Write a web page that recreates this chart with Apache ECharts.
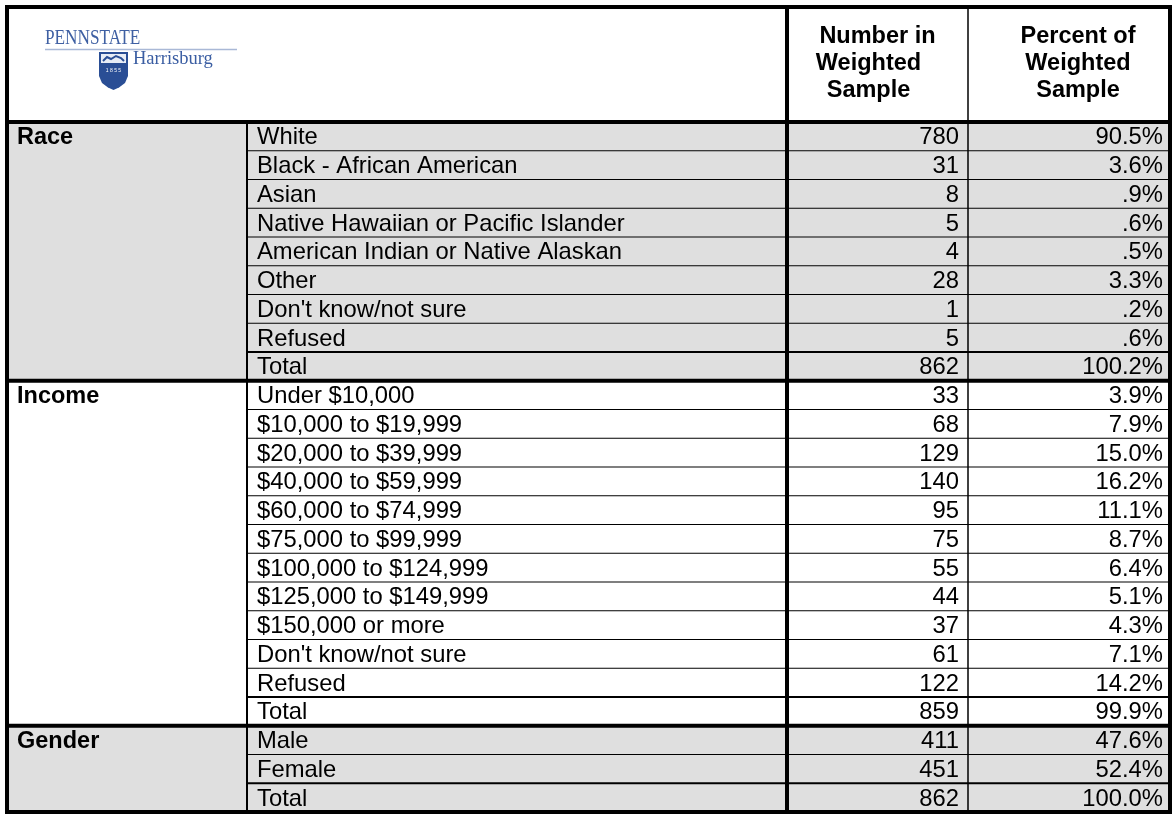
<!DOCTYPE html>
<html>
<head>
<meta charset="utf-8">
<title>Weighted sample</title>
<script src="https://cdn.jsdelivr.net/npm/echarts@6/dist/echarts.min.js"></script>
<style>
  html, body { margin: 0; padding: 0; background: #fff; }
  #chart { width: 1172px; height: 814px; }
</style>
</head>
<body>
<div id="chart"></div>
<script>
// table data
const raceLabels = ['White', 'Black - African American', 'Asian', 'Native Hawaiian or Pacific Islander',
  'American Indian or Native Alaskan', 'Other', "Don't know/not sure", 'Refused', 'Total']
const raceCounts = [780, 31, 8, 5, 4, 28, 1, 5, 862]
const racePercents = [90.5, 3.6, 0.9, 0.6, 0.5, 3.3, 0.2, 0.6, 100.2]

const incomeLabels = ['Under $10,000', '$10,000 to $19,999', '$20,000 to $39,999', '$40,000 to $59,999',
  '$60,000 to $74,999', '$75,000 to $99,999', '$100,000 to $124,999', '$125,000 to $149,999',
  '$150,000 or more', "Don't know/not sure", 'Refused', 'Total']
const incomeCounts = [33, 68, 129, 140, 95, 75, 55, 44, 37, 61, 122, 859]
const incomePercents = [3.9, 7.9, 15.0, 16.2, 11.1, 8.7, 6.4, 5.1, 4.3, 7.1, 14.2, 99.9]

const genderLabels = ['Male', 'Female', 'Total']
const genderCounts = [411, 451, 862]
const genderPercents = [47.6, 52.4, 100.0]

const headerNumber = ['Number in', 'Weighted', 'Sample']
const headerPercent = ['Percent of', 'Weighted', 'Sample']

// layout (x axis is in px from the table's left edge, y axis in rows)
const HEADER_ROWS = 4
const TABLE_W = 1163
const C2 = 240
const C3 = 780
const C4 = 961
const SHADE = '#dfdfdf'
const FONT = '"Liberation Sans", Arial, sans-serif'
const BODY = '23.8px ' + FONT
const BOLD = 'bold 23.5px ' + FONT

const sections = [
  { name: 'Race', labels: raceLabels, counts: raceCounts, pcts: racePercents, shaded: true },
  { name: 'Income', labels: incomeLabels, counts: incomeCounts, pcts: incomePercents, shaded: false },
  { name: 'Gender', labels: genderLabels, counts: genderCounts, pcts: genderPercents, shaded: true }
]
let nRows = 0
sections.forEach(s => { s.start = nRows; nRows += s.labels.length; s.end = nRows })

const rows = []
sections.forEach(s => {
  s.labels.forEach((l, i) => {
    rows.push({ row: s.start + i, first: i === 0, label: l, count: s.counts[i], pct: s.pcts[i],
      shaded: s.shaded, total: l === 'Total' })
  })
})

const fmtPct = v => {
  let s = v.toFixed(1)
  if (s.startsWith('0')) s = s.slice(1)
  return s + '%'
}

const txt = (text, x, y, font, align) => ({
  type: 'text',
  style: { text, x, y, font, fill: '#000', textAlign: align, align,
    textVerticalAlign: 'middle', verticalAlign: 'middle' }
})
const ln = (p1, p2, w) => ({
  type: 'line',
  shape: { x1: p1[0], y1: p1[1], x2: p2[0], y2: p2[1] },
  style: { stroke: '#000', lineWidth: w }
})

const chart = echarts.init(document.getElementById('chart'))

const option = {
  animation: false,
  grid: { left: 7, right: 2, top: 7, bottom: 2 },
  xAxis: { type: 'value', min: 0, max: TABLE_W, show: false },
  yAxis: { type: 'value', min: -HEADER_ROWS, max: nRows, inverse: true, show: false },
  graphic: [
    { type: 'text', x: 45, y: 38, scaleX: 0.82, silent: true,
      style: { text: 'PENNSTATE', font: '21px "Liberation Serif", serif', fill: '#3f60a3',
        textVerticalAlign: 'middle', verticalAlign: 'middle' } },
    { type: 'line', silent: true, shape: { x1: 45, y1: 49.5, x2: 237, y2: 49.5 },
      style: { stroke: '#a9b8d6', lineWidth: 1.5 } },
    { type: 'polygon', silent: true,
      shape: { points: [[99, 52], [128, 52], [128, 76], [125, 83], [119, 87.5], [113.5, 90],
        [108, 87.5], [102, 83], [99, 76]] },
      style: { fill: '#2a4e95' } },
    { type: 'rect', silent: true, shape: { x: 101, y: 54, width: 25, height: 9 }, style: { fill: '#e8edf6' } },
    { type: 'polyline', silent: true,
      shape: { points: [[103, 61], [107, 57], [111, 59], [116, 56], [121, 58], [124, 61]] },
      style: { stroke: '#2a4e95', lineWidth: 2, fill: null } },
    { type: 'text', x: 113.5, y: 70.5, silent: true,
      style: { text: '1 8 5 5', font: '5px ' + FONT, fill: '#fff', textAlign: 'center', align: 'center',
        textVerticalAlign: 'middle', verticalAlign: 'middle' } },
    { type: 'text', x: 133, y: 59, silent: true,
      style: { text: 'Harrisburg', font: '18.5px "Liberation Serif", serif', fill: '#3a5da2',
        textVerticalAlign: 'middle', verticalAlign: 'middle' } }
  ],
  series: [
    {
      // category cells in the first column
      type: 'custom',
      z: 1,
      silent: true,
      data: sections.map(s => [0, s.start]),
      renderItem: (params, api) => {
        const s = sections[params.dataIndex]
        const a = api.coord([0, s.start])
        const b = api.coord([C2, s.end])
        const c = api.coord([10, s.start + 0.5])
        return {
          type: 'group',
          children: [
            { type: 'rect', shape: { x: a[0], y: a[1], width: b[0] - a[0], height: b[1] - a[1] },
              style: { fill: s.shaded ? SHADE : '#fff' } },
            txt(s.name, c[0], c[1] + 1.5, BOLD, 'left')
          ]
        }
      }
    },
    {
      // one row per answer
      type: 'custom',
      z: 2,
      silent: true,
      data: rows.map(r => [C2, r.row]),
      renderItem: (params, api) => {
        const r = rows[params.dataIndex]
        const a = api.coord([C2, r.row])
        const b = api.coord([TABLE_W, r.row + 1])
        const yMid = api.coord([0, r.row + 0.5])[1] + 1.5
        const children = [
          { type: 'rect', shape: { x: a[0], y: a[1], width: b[0] - a[0], height: b[1] - a[1] },
            style: { fill: r.shaded ? SHADE : '#fff' } }
        ]
        if (!r.first) children.push(ln(a, [b[0], a[1]], r.total ? 2 : 1.2))
        children.push(txt(r.label, api.coord([C2 + 10, 0])[0], yMid, BODY, 'left'))
        children.push(txt(String(r.count), api.coord([C4 - 9, 0])[0], yMid, BODY, 'right'))
        children.push(txt(fmtPct(r.pct), api.coord([TABLE_W - 7, 0])[0], yMid, BODY, 'right'))
        return { type: 'group', children }
      }
    },
    {
      // header text and the heavy rules
      type: 'custom',
      z: 3,
      silent: true,
      data: [[0, -HEADER_ROWS]],
      renderItem: (params, api) => {
        const top = -HEADER_ROWS
        const children = []
        const yh = api.coord([0, -2])[1] - 1
        headerNumber.forEach((t, k) => {
          const dx = k === 0 ? 0 : -9
          children.push(txt(t, api.coord([(C3 + C4) / 2 + dx, 0])[0], yh + (k - 1) * 27, BOLD, 'center'))
        })
        headerPercent.forEach((t, k) => {
          children.push(txt(t, api.coord([(C4 + TABLE_W) / 2 + 9, 0])[0], yh + (k - 1) * 27, BOLD, 'center'))
        })
        children.push(ln(api.coord([C2, 0]), api.coord([C2, nRows]), 2))
        children.push(ln(api.coord([C4, top]), api.coord([C4, nRows]), 1.5))
        children.push(ln(api.coord([C3, top]), api.coord([C3, nRows]), 4))
        sections.forEach(s => {
          children.push(ln(api.coord([0, s.start]), api.coord([TABLE_W, s.start]), 4))
        })
        const a = api.coord([0, top])
        const b = api.coord([TABLE_W, nRows])
        children.push({ type: 'rect', shape: { x: a[0], y: a[1], width: b[0] - a[0], height: b[1] - a[1] },
          style: { fill: null, stroke: '#000', lineWidth: 4 } })
        return { type: 'group', children }
      }
    }
  ]
}

chart.setOption(option)
window.addEventListener('resize', () => chart.resize())
</script>
</body>
</html>
